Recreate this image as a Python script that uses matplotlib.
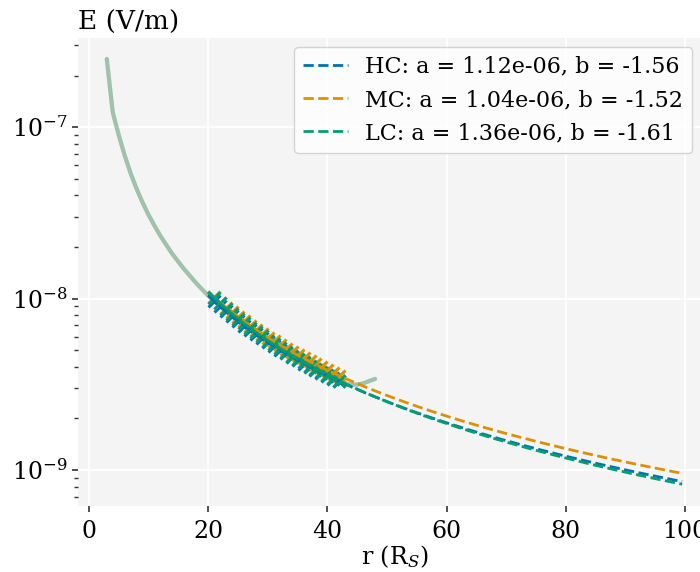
import numpy as np
import matplotlib
matplotlib.use("Agg")
import matplotlib.pyplot as plt
from matplotlib.ticker import NullFormatter, LogLocator

plt.rcParams['font.family'] = ['DejaVu Serif']
plt.rcParams['mathtext.fontset'] = 'dejavuserif'

# colours (seaborn colorblind)
colors = ['#0173b2', '#de8f05', '#029e73']
names = ['HC', 'MC', 'LC']

# fit parameters from legend: E = a * r**b
fit_a = [1.12e-06, 1.04e-06, 1.36e-06]
fit_b = [-1.56, -1.52, -1.61]

# field profile (all three regions almost on top of each other)
r_prof = list(range(3, 49))
E_prof = [2.50e-7, 1.22e-7, 9.00e-8, 6.84e-8, 5.38e-8, 4.37e-8, 3.63e-8, 3.08e-8,
          2.66e-8, 2.32e-8, 2.05e-8, 1.82e-8, 1.64e-8, 1.48e-8, 1.35e-8, 1.23e-8,
          1.13e-8, 1.04e-8, 9.70e-9, 9.02e-9, 8.41e-9, 7.87e-9, 7.39e-9, 6.95e-9,
          6.55e-9, 6.19e-9, 5.86e-9, 5.56e-9, 5.28e-9, 5.02e-9, 4.79e-9, 4.57e-9,
          4.37e-9, 4.18e-9, 4.01e-9, 3.84e-9, 3.69e-9, 3.55e-9, 3.41e-9, 3.29e-9,
          3.20e-9, 3.15e-9, 3.15e-9, 3.20e-9, 3.30e-9, 3.40e-9]

# fitted points
r_pts = list(range(21, 43))
E_hc = [9.70e-9, 9.02e-9, 8.41e-9, 7.87e-9, 7.39e-9, 6.95e-9, 6.55e-9, 6.19e-9,
        5.86e-9, 5.56e-9, 5.28e-9, 5.02e-9, 4.79e-9, 4.57e-9, 4.37e-9, 4.18e-9,
        4.01e-9, 3.84e-9, 3.69e-9, 3.55e-9, 3.41e-9, 3.29e-9]
E_mc = [1.017e-8, 9.47e-9, 8.86e-9, 8.30e-9, 7.80e-9, 7.35e-9, 6.94e-9, 6.57e-9,
        6.23e-9, 5.91e-9, 5.62e-9, 5.36e-9, 5.11e-9, 4.89e-9, 4.68e-9, 4.48e-9,
        4.30e-9, 4.13e-9, 3.97e-9, 3.82e-9, 3.68e-9, 3.55e-9]
E_lc = [1.011e-8, 9.38e-9, 8.73e-9, 8.15e-9, 7.63e-9, 7.17e-9, 6.74e-9, 6.36e-9,
        6.01e-9, 5.69e-9, 5.40e-9, 5.13e-9, 4.88e-9, 4.65e-9, 4.44e-9, 4.25e-9,
        4.06e-9, 3.89e-9, 3.73e-9, 3.58e-9, 3.44e-9, 3.31e-9]
E_pts = [E_hc, E_mc, E_lc]

r_fit = np.linspace(20, 99.5, 200)

fig = plt.figure(figsize=(7, 5.72), dpi=100)
ax = fig.add_axes([0.1114, 0.1154, 0.904, 0.8182])
ax.set_facecolor('#f4f4f4')

for i in range(3):
    ax.plot(r_prof, E_prof, color=colors[i], lw=3, alpha=0.2, solid_capstyle='round')
for i in range(3):
    ax.plot(r_pts, E_pts[i], ls='none', marker='x', ms=8.5, mew=2.2, color=colors[i])
for i in range(3):
    ax.plot(r_fit, fit_a[i] * r_fit ** fit_b[i], ls='--', lw=2, color=colors[i],
            label=f'{names[i]}: a = {fit_a[i]:.2e}, b = {fit_b[i]:.2f}')

ax.set_yscale('log')
ax.set_xlim(-1.83, 104.3)
ax.set_ylim(10 ** -9.21, 10 ** -6.48)
ax.set_xticks([0, 20, 40, 60, 80, 100])
ax.yaxis.set_minor_locator(LogLocator(base=10, subs=np.arange(2, 10)))
ax.yaxis.set_minor_formatter(NullFormatter())

ax.grid(True, which='major', color='white', lw=1.2)
ax.set_axisbelow(True)
for s in ax.spines.values():
    s.set_visible(False)

ax.tick_params(axis='both', which='major', labelsize=17, color='#333333', length=4, width=1.2)
ax.tick_params(axis='y', which='minor', color='#333333', length=3, width=1)
ax.tick_params(axis='x', pad=6)

ax.set_xlabel(r'r (R$_S$)', fontsize=17, labelpad=0)
ax.set_title('E (V/m)', loc='left', fontsize=19, pad=6)

leg = ax.legend(loc='upper right', bbox_to_anchor=(0.9706, 0.9808), borderaxespad=0,
                fontsize=16, frameon=True, fancybox=True, handlelength=2.0)
leg.get_frame().set_facecolor('white')
leg.get_frame().set_edgecolor('#cccccc')

fig.savefig('out.png', dpi=100)
